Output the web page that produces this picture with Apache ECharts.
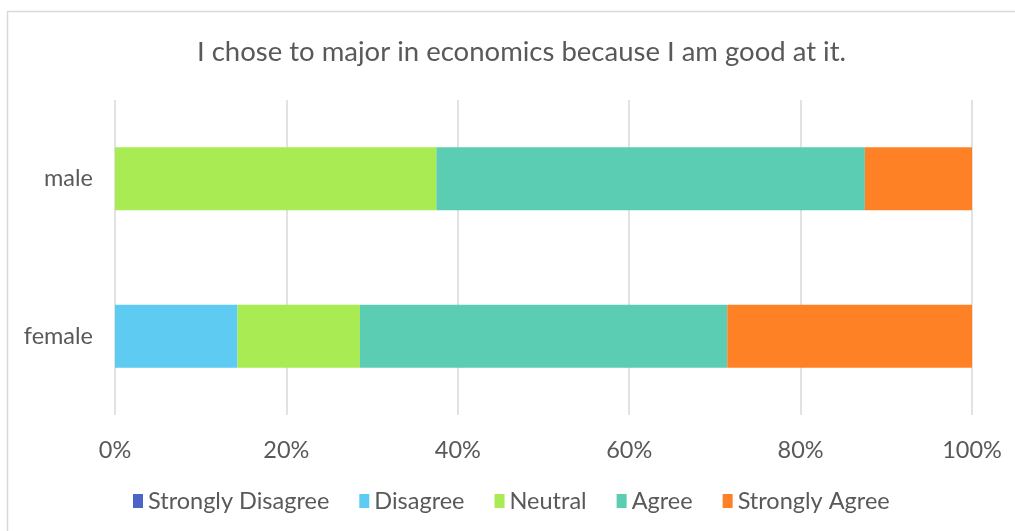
<!DOCTYPE html>
<html>
<head>
<meta charset="utf-8">
<script src="https://cdn.jsdelivr.net/npm/echarts@6/dist/echarts.min.js"></script>
<style>
  html, body { margin: 0; padding: 0; background: #fff; }
  #chart { width: 1015px; height: 531px; }
</style>
</head>
<body>
<div id="chart"></div>
<script>
// Survey responses, share of respondents (%) per gender
const categories = ['female', 'male'];
const stronglyDisagree = [0, 0];
const disagree = [14.29, 0];
const neutral = [14.29, 37.5];
const agree = [42.86, 50];
const stronglyAgree = [28.57, 12.5];
const tickLabels = ['0%', '20%', '40%', '60%', '80%', '100%'];

const seriesDefs = [
  { name: 'Strongly Disagree', data: stronglyDisagree, color: '#4A64C8' },
  { name: 'Disagree', data: disagree, color: '#5DCBF2' },
  { name: 'Neutral', data: neutral, color: '#A9EB53' },
  { name: 'Agree', data: agree, color: '#5ACDB2' },
  { name: 'Strongly Agree', data: stronglyAgree, color: '#FF8125' }
];

const font = 'Lato, "Open Sans", sans-serif';
const chart = echarts.init(document.getElementById('chart'));
chart.setOption({
  animation: false,
  backgroundColor: '#ffffff',
  graphic: [{
    type: 'rect',
    shape: { x: 7.5, y: 11.5, width: 1030, height: 560 },
    style: { fill: 'none', stroke: '#d9d9d9', lineWidth: 1.5 },
    silent: true
  }],
  title: {
    text: 'I chose to major in economics because I am good at it.',
    left: 192,
    top: 33,
    textStyle: { fontFamily: font, fontSize: 27.5, fontWeight: 'normal', color: '#595959' }
  },
  legend: {
    bottom: 13,
    left: 128,
    itemWidth: 10,
    itemHeight: 14,
    itemGap: 30,
    icon: 'rect',
    textStyle: { fontFamily: font, fontSize: 23.5, color: '#595959' },
    data: seriesDefs.map(s => s.name)
  },
  grid: { left: 115, right: 43, top: 100, bottom: 116, containLabel: false },
  xAxis: {
    type: 'value',
    min: 0,
    max: 100,
    interval: 20,
    axisLine: { show: false },
    axisTick: { show: false },
    splitLine: { show: true, lineStyle: { color: '#d9d9d9', width: 1.5 } },
    axisLabel: {
      margin: 23,
      fontFamily: font,
      fontSize: 23.5,
      color: '#595959',
      formatter: v => tickLabels[Math.round(v / 20)]
    }
  },
  yAxis: {
    type: 'category',
    data: categories,
    axisLine: { show: false },
    axisTick: { show: false },
    axisLabel: { margin: 22, fontFamily: font, fontSize: 23.5, color: '#595959' }
  },
  series: seriesDefs.map(s => ({
    name: s.name,
    type: 'bar',
    stack: 'total',
    barCategoryGap: '60%',
    data: s.data,
    itemStyle: { color: s.color }
  }))
});
</script>
</body>
</html>
